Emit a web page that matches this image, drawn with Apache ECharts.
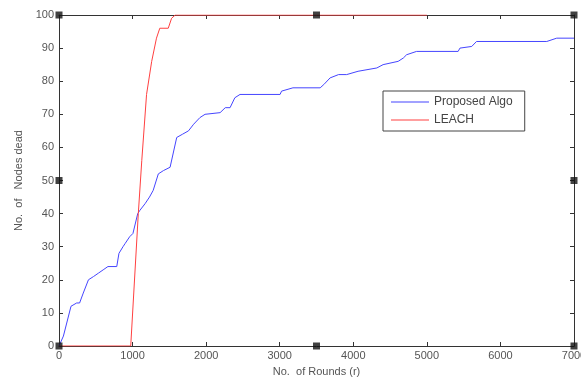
<!DOCTYPE html>
<html><head><meta charset="utf-8">
<script src="https://cdn.jsdelivr.net/npm/echarts@6/dist/echarts.min.js"></script>
<style>html,body{margin:0;padding:0;background:#fff}#c{width:581px;height:381px}</style>
</head><body><div id="c"></div>
<script>
const proposedX = [0,60,163,240,280,330,400,470,535,600,665,785,815,870,900,960,1005,1070,1100,1170,1230,1280,1350,1420,1510,1600,1680,1760,1830,1915,1985,2190,2260,2325,2390,2460,3005,3025,3180,3550,3600,3685,3800,3910,4065,4320,4405,4610,4680,4725,4860,5425,5450,5610,5675,6630,6765,7000];
const proposedY = [0,3,12,13,13,16,20,21,22,23,24,24,28,30,31,33,34,40,41,43,45,47,52,53,54,63,64,65,67,69,70,70.5,72,72,75,76,76,77,78,78,79,81,82,82,83,84,85,86,87,88,89,89,90,90.5,92,92,93,93];
const leachX = [0,975,1078,1125,1190,1260,1325,1370,1485,1530,1580,5000];
const leachY = [0,0,40,56,76,86,93,96,96,99,100,100];
const handleX = [0,3500,7000,0,7000,0,3500,7000];
const handleY = [100,100,100,50,50,0,0,0];
const xTicks = [0,1000,2000,3000,4000,5000,6000,7000];
const yTicks = [0,10,20,30,40,50,60,70,80,90,100];

const zip = (a,b)=>a.map((v,i)=>[v,b[i]]);
const chart = echarts.init(document.getElementById('c'));
const lab = {color:'#555', fontSize:11, fontFamily:'Liberation Sans, Arial, sans-serif'};
const axLine = {show:true, onZero:false, lineStyle:{color:'#333', width:1}};
const tick = {show:true, inside:true, length:4, lineStyle:{color:'#333'}};
chart.setOption({
  animation:false,
  grid:{left:59, right:7, top:15, bottom:35, containLabel:false, outerBoundsMode:'none'},
  xAxis:[
    {type:'value', min:0, max:7000, interval:1000, axisLine:axLine, axisTick:tick, splitLine:{show:false},
     axisLabel:{...lab, margin:4, formatter:v=>xTicks.includes(v)?String(v):''},
     name:'No.  of Rounds (r)', nameLocation:'middle', nameGap:20, nameTextStyle:{...lab, fontSize:11}},
    {type:'value', position:'top', min:0, max:7000, interval:1000, axisLine:axLine, axisTick:tick, axisLabel:{show:false}, splitLine:{show:false}}
  ],
  yAxis:[
    {type:'value', min:0, max:100, interval:10, axisLine:axLine, axisTick:tick, splitLine:{show:false},
     axisLabel:{...lab, margin:5, formatter:v=>yTicks.includes(v)?String(v):''},
     name:'No.  of   Nodes dead', nameLocation:'middle', nameGap:34, nameTextStyle:{...lab, fontSize:11}},
    {type:'value', position:'right', min:0, max:100, interval:10, axisLine:axLine, axisTick:tick, axisLabel:{show:false}, splitLine:{show:false}}
  ],
  legend:{
    orient:'vertical', left:383, top:91, itemWidth:38, itemHeight:12, itemGap:6,
    borderColor:'#444', borderWidth:1, padding:[5,12,5,8],
    textStyle:{...lab, fontSize:12, color:'#444'},
    data:[{name:'Proposed Algo', icon:'path://M0,4L40,4L40,5L0,5Z'},{name:'LEACH', icon:'path://M0,4L40,4L40,5L0,5Z'}]
  },
  series:[
    {name:'Proposed Algo', type:'line', data:zip(proposedX,proposedY), showSymbol:false, color:'#4545ff', lineStyle:{width:1, color:'#4545ff'}},
    {name:'LEACH', type:'line', data:zip(leachX,leachY), showSymbol:false, color:'#ff4040', lineStyle:{width:1, color:'#ff4040'}},
    {name:'handles', type:'scatter', data:zip(handleX,handleY), symbol:'rect', symbolSize:7, itemStyle:{color:'#111'}, z:10, clip:false}
  ]
});
</script></body></html>
